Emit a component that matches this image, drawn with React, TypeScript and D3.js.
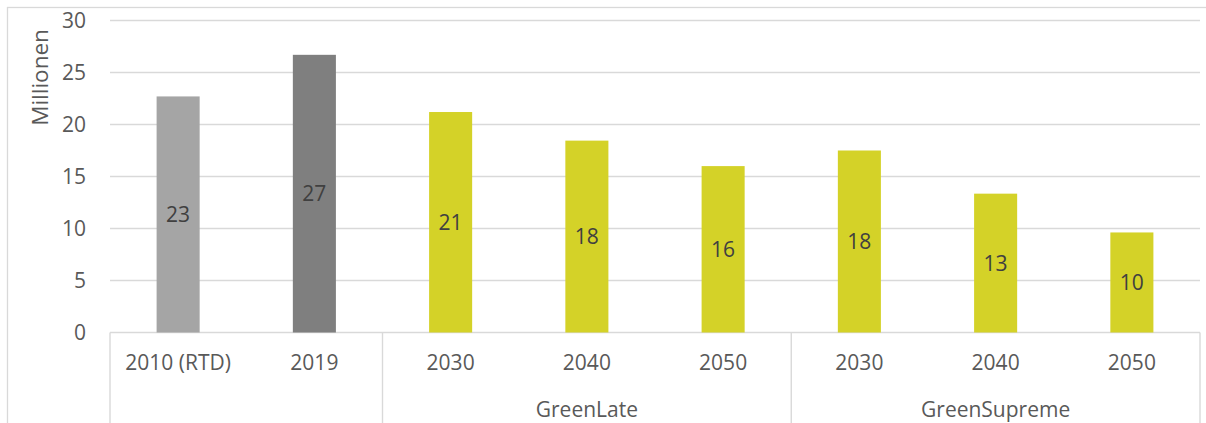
import React from "react";
import * as d3 from "d3";

const categories = ["2010 (RTD)", "2019", "2030", "2040", "2050", "2030", "2040", "2050"];
const values = [22.7, 26.7, 21.2, 18.45, 16.0, 17.5, 13.35, 9.62];
const barColors = ["#a5a5a5", "#7f7f7f", "#d4d228", "#d4d228", "#d4d228", "#d4d228", "#d4d228", "#d4d228"];
const groups = [
  { label: "", start: 0, end: 2 },
  { label: "GreenLate", start: 2, end: 5 },
  { label: "GreenSupreme", start: 5, end: 8 },
];
const yTicks = [0, 5, 10, 15, 20, 25, 30];
const yTitle = "Millionen";

const W = 1206;
const H = 423;
const plotLeft = 110;
const plotRight = 1200;
const plotTop = 20.5;
const plotBottom = 332.5;
const FONT = "'Open Sans', sans-serif";

export default function App() {
  const idx = categories.map((_, i) => i);
  const x = d3.scaleBand<number>().domain(idx).range([plotLeft, plotRight]).paddingInner(0.684).paddingOuter(0.342);
  const y = d3.scaleLinear().domain([0, 30]).range([plotBottom, plotTop]);
  const step = (plotRight - plotLeft) / categories.length;
  const boundary = (i: number) => plotLeft + i * step;

  return (
    <svg width={W} height={H} style={{ position: "absolute", left: 0, top: 0, background: "#fff" }} fontFamily={FONT}>
      <rect x={7.5} y={7.5} width={W + 20} height={H + 20} fill="#fff" stroke="#d9d9d9" strokeWidth={1.3} />
      {yTicks.map((t) => (
        <g key={t}>
          <line x1={plotLeft} x2={plotRight} y1={y(t)} y2={y(t)} stroke="#d9d9d9" strokeWidth={1.4} />
          <text x={86} y={y(t)} dy="0.36em" textAnchor="end" fontSize={21} fill="#595959">{t}</text>
        </g>
      ))}
      <text transform={`translate(40,${(y(30) + y(20)) / 2 + 5}) rotate(-90)`} textAnchor="middle" dy="0.36em" fontSize={22.5} fill="#595959">{yTitle}</text>
      {values.map((v, i) => (
        <g key={i}>
          <rect x={x(i)} y={y(v)} width={x.bandwidth()} height={y(0) - y(v)} fill={barColors[i]} />
          <text x={(x(i) as number) + x.bandwidth() / 2} y={(y(v) + y(0)) / 2} dy="0.36em" textAnchor="middle" fontSize={21} fill="#404040">{Math.round(v)}</text>
        </g>
      ))}
      {[0, 2, 5, 8].map((b) => (
        <line key={b} x1={boundary(b)} x2={boundary(b)} y1={plotBottom} y2={H + 10} stroke="#d9d9d9" strokeWidth={1.4} />
      ))}
      {categories.map((c, i) => (
        <text key={i} x={(x(i) as number) + x.bandwidth() / 2} y={362} dy="0.36em" textAnchor="middle" fontSize={21} fill="#595959">{c}</text>
      ))}
      {groups.map((g) => (
        <text key={g.label + g.start} x={(boundary(g.start) + boundary(g.end)) / 2} y={409.5} dy="0.36em" textAnchor="middle" fontSize={21} fill="#595959">{g.label}</text>
      ))}
    </svg>
  );
}
